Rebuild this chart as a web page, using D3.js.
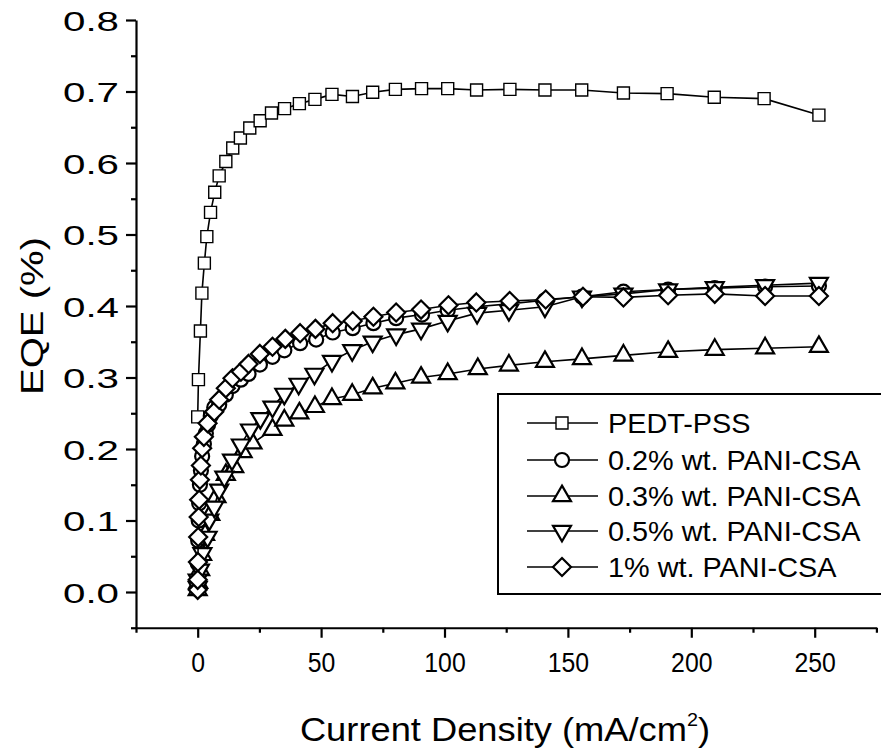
<!DOCTYPE html>
<html>
<head>
<meta charset="utf-8">
<script src="https://cdn.jsdelivr.net/npm/d3@7"></script>
<style>
  html, body { margin: 0; padding: 0; background: #fff; }
  svg { display: block; font-family: "Liberation Sans", Arial, Helvetica, sans-serif; }
</style>
</head>
<body>
<svg id="chart" width="881" height="751"></svg>
<script>
// ---- Data ----
const seriesNames = ["PEDT-PSS", "0.2% wt. PANI-CSA", "0.3% wt. PANI-CSA", "0.5% wt. PANI-CSA", "1% wt. PANI-CSA"];
const seriesSymbols = ["square", "circle", "triangleUp", "triangleDown", "diamond"];

const pedtX = [0, 0.3, 1.1, 1.7, 2.7, 3.7, 5.2, 6.9, 8.7, 11.4, 14.2, 17.3, 21.1, 25.3, 29.9, 35.2, 41.2, 47.5, 54.4, 62.7, 70.9, 80.1, 90.7, 101.3, 113, 126.5, 140.7, 155.6, 172.5, 190.2, 209.3, 229.5, 251.7];
const pedtY = [0.245, 0.297, 0.365, 0.418, 0.460, 0.497, 0.531, 0.559, 0.582, 0.602, 0.621, 0.635, 0.649, 0.659, 0.670, 0.676, 0.683, 0.689, 0.696, 0.693, 0.699, 0.703, 0.704, 0.704, 0.702, 0.703, 0.702, 0.702, 0.698, 0.697, 0.692, 0.690, 0.667];

const pani02X = [0, 0, 0.1, 0.2, 0.4, 0.6, 0.9, 1.3, 1.8, 2.5, 3.3, 4.2, 5.3, 6.7, 8.7, 11.4, 14.1, 17.5, 20.6, 25.2, 30.3, 35.1, 41.5, 48.0, 54.7, 62.8, 71.2, 80.4, 90.9, 101.3, 112.9, 126.1, 140.7, 155.7, 172.5, 190.6, 209.5, 229.9, 251.7];
const pani02Y = [0.004, 0.016, 0.040, 0.072, 0.100, 0.124, 0.150, 0.170, 0.190, 0.207, 0.222, 0.234, 0.246, 0.258, 0.262, 0.276, 0.288, 0.297, 0.305, 0.318, 0.329, 0.338, 0.348, 0.353, 0.363, 0.369, 0.376, 0.383, 0.388, 0.394, 0.399, 0.403, 0.408, 0.413, 0.420, 0.423, 0.425, 0.427, 0.428];

const pani03X = [0, 0.2, 1.0, 1.8, 3.0, 5.1, 7.6, 11.4, 14.8, 18.2, 22.2, 30.3, 35.1, 41.2, 47.5, 54.4, 62.6, 70.9, 80.1, 90.5, 101.3, 113.5, 126.1, 140.7, 155.7, 172.5, 190.6, 209.5, 229.9, 251.7];
const pani03Y = [0.003, 0.013, 0.031, 0.052, 0.080, 0.108, 0.133, 0.164, 0.175, 0.196, 0.208, 0.227, 0.240, 0.250, 0.259, 0.270, 0.276, 0.285, 0.292, 0.300, 0.305, 0.312, 0.317, 0.322, 0.326, 0.331, 0.336, 0.339, 0.341, 0.343];

const pani05X = [0, 0, 0.9, 1.9, 4.0, 4.7, 6.7, 8.7, 10.8, 13.9, 17.5, 21.2, 25.4, 30.3, 35.1, 40.9, 47.3, 54.4, 62.6, 70.9, 80.4, 90.5, 101.3, 113.2, 126.1, 140.7, 155.7, 172.5, 190.6, 209.5, 229.9, 251.7];
const pani05Y = [0.007, 0.017, 0.031, 0.054, 0.077, 0.101, 0.119, 0.143, 0.161, 0.185, 0.206, 0.227, 0.243, 0.259, 0.277, 0.291, 0.305, 0.323, 0.338, 0.350, 0.360, 0.368, 0.379, 0.390, 0.394, 0.399, 0.413, 0.417, 0.423, 0.426, 0.429, 0.432];

const pani1X = [0, 0, 0.1, 0.2, 0.4, 0.6, 0.9, 1.3, 1.8, 2.5, 4.0, 6.7, 8.7, 11.4, 14.1, 17.5, 20.6, 25.2, 30.3, 35.5, 41.5, 47.7, 54.7, 62.8, 71.2, 80.4, 90.5, 101.6, 112.9, 126.4, 141.0, 156.1, 172.5, 190.6, 209.5, 229.9, 251.7];
const pani1Y = [0.003, 0.017, 0.042, 0.077, 0.105, 0.129, 0.157, 0.177, 0.201, 0.217, 0.236, 0.252, 0.269, 0.285, 0.299, 0.308, 0.319, 0.333, 0.343, 0.354, 0.362, 0.368, 0.376, 0.379, 0.385, 0.391, 0.395, 0.401, 0.405, 0.407, 0.409, 0.413, 0.412, 0.415, 0.417, 0.414, 0.414];

const xMajorTicks = [0, 50, 100, 150, 200, 250];
const xMinorTicks = [-25, 25, 75, 125, 175, 225, 275];
const yMajorTicks = [0.0, 0.1, 0.2, 0.3, 0.4, 0.5, 0.6, 0.7, 0.8];
const yMinorTicks = [-0.05, 0.05, 0.15, 0.25, 0.35, 0.45, 0.55, 0.65, 0.75];
const xTitle = "Current Density (mA/cm";
const yTitle = "EQE (%)";

// ---- Build ----
const seriesX = [pedtX, pani02X, pani03X, pani05X, pani1X];
const seriesY = [pedtY, pani02Y, pani03Y, pani05Y, pani1Y];
const series = seriesNames.map((name, i) => ({
  name, symbol: seriesSymbols[i],
  points: seriesX[i].map((x, j) => ({ x, y: seriesY[i][j] }))
}));

const svg = d3.select("#chart");
const x = d3.scaleLinear().domain([-25, 275]).range([136, 876.4]);
const y = d3.scaleLinear().domain([-0.05, 0.8]).range([627.75, 20]);

function symbolPath(kind) {
  switch (kind) {
    case "square": return d3.symbol().type(d3.symbolSquare).size(144)();
    case "circle": return d3.symbol().type(d3.symbolCircle).size(155)();
    case "triangleUp": return d3.symbol().type(d3.symbolTriangle).size(140)();
    case "triangleDown": return d3.symbol().type(d3.symbolTriangle).size(140)();
    case "diamond": return "M0,-9L9,0L0,9L-9,0Z";
  }
}
function symbolTransform(kind) { return kind === "triangleDown" ? " rotate(180)" : ""; }

// Axes
const axisStroke = 2.2;
const gx = svg.append("g").attr("transform", `translate(0,${y(-0.05)})`);
gx.call(d3.axisBottom(x).tickValues(xMajorTicks).tickSize(10).tickSizeOuter(0).tickFormat(d3.format("d")));
const gxm = svg.append("g").attr("transform", `translate(0,${y(-0.05)})`);
gxm.call(d3.axisBottom(x).tickValues(xMinorTicks).tickSize(5).tickSizeOuter(0).tickFormat(""));
gxm.select(".domain").remove();

const gy = svg.append("g").attr("transform", `translate(${x(-25)},0)`);
gy.call(d3.axisLeft(y).tickValues(yMajorTicks).tickSize(10).tickSizeOuter(0).tickFormat(d3.format(".1f")));
const gym = svg.append("g").attr("transform", `translate(${x(-25)},0)`);
gym.call(d3.axisLeft(y).tickValues(yMinorTicks).tickSize(5).tickSizeOuter(0).tickFormat(""));
gym.select(".domain").remove();

svg.selectAll(".domain, .tick line").attr("stroke", "#000").attr("stroke-width", axisStroke);

gx.selectAll(".tick text")
  .attr("font-size", 28).attr("fill", "#000").attr("y", 0).attr("dy", 0)
  .attr("transform", "translate(0,44)")
  .each(function () {
    const t = d3.select(this); const n = t.text().length;
    t.attr("textLength", 13.8 * n).attr("lengthAdjust", "spacingAndGlyphs");
  });
gy.selectAll(".tick text")
  .attr("font-size", 28).attr("fill", "#000").attr("x", -17).attr("dy", "0.36em")
  .attr("textLength", 56).attr("lengthAdjust", "spacingAndGlyphs");

// Axis titles
const xt = svg.append("text").attr("text-anchor", "middle")
  .attr("transform", "translate(505,741) scale(1.1,1)")
  .attr("font-size", 33).attr("fill", "#000");
xt.append("tspan").text(xTitle);
xt.append("tspan").attr("font-size", 18).attr("dy", -15).text("2");
xt.append("tspan").attr("dy", 15).text(")");

svg.append("text").attr("transform", "translate(43,316) rotate(-90)")
  .attr("text-anchor", "middle").attr("font-size", 32).attr("fill", "#000")
  .attr("textLength", 158).attr("lengthAdjust", "spacingAndGlyphs").text(yTitle);

// Series
const line = d3.line().x(d => x(d.x)).y(d => y(d.y));
series.forEach((s, i) => {
  const g = svg.append("g");
  g.append("path").attr("d", line(s.points)).attr("fill", "none")
    .attr("stroke", "#000").attr("stroke-width", 1.6);
  g.selectAll("path.m").data(s.points).join("path").attr("class", "m")
    .attr("d", symbolPath(s.symbol))
    .attr("transform", d => `translate(${x(d.x)},${y(d.y)})` + symbolTransform(s.symbol))
    .attr("fill", "#fff").attr("stroke", "#000")
    .attr("stroke-width", i === 0 ? 1.4 : 2.2);
});

// Legend
const lg = svg.append("g");
lg.append("rect").attr("x", 498).attr("y", 394).attr("width", 400).attr("height", 200)
  .attr("fill", "#fff").attr("stroke", "#000").attr("stroke-width", 2);
const rowY = [423, 460, 496, 531, 567];
series.forEach((s, i) => {
  const r = lg.append("g").attr("transform", `translate(0,${rowY[i]})`);
  r.append("line").attr("x1", 527).attr("x2", 598).attr("y1", 0).attr("y2", 0)
    .attr("stroke", "#000").attr("stroke-width", 1.6);
  r.append("path").attr("d", symbolPath(s.symbol))
    .attr("transform", "translate(562,0)" + symbolTransform(s.symbol))
    .attr("fill", "#fff").attr("stroke", "#000").attr("stroke-width", i === 0 ? 1.4 : 2.2);
  r.append("text").attr("x", 608).attr("y", 0).attr("dy", "0.36em")
    .attr("font-size", 28).attr("fill", "#000").attr("transform", "translate(608,0) scale(1.03,1) translate(-608,0)")
    .text(s.name);
});
</script>
</body>
</html>
